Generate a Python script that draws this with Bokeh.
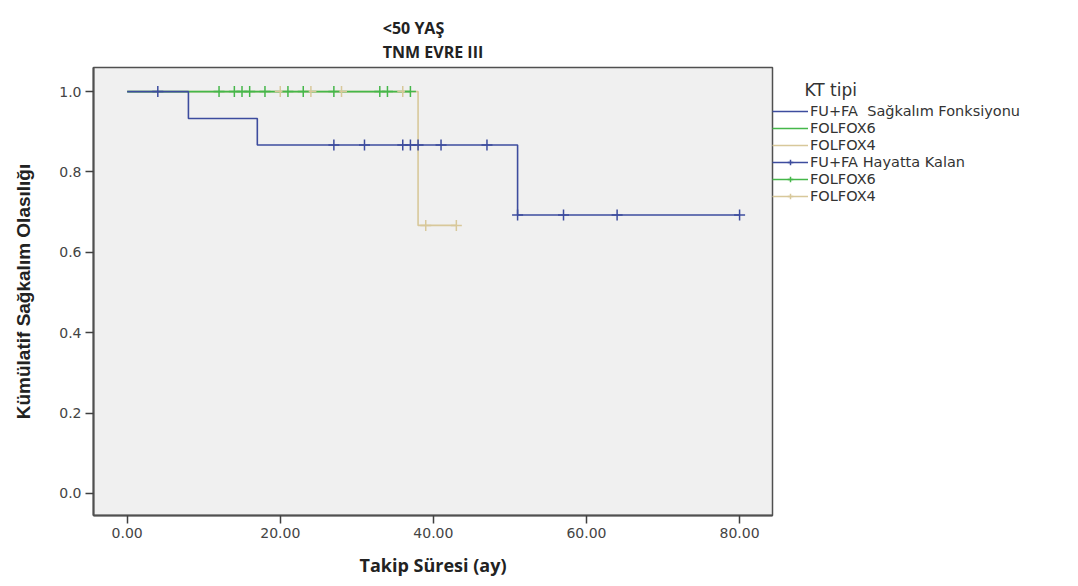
import numpy as np
from bokeh.plotting import figure
from bokeh.models import (Range1d, NumeralTickFormatter, FixedTicker, Legend,
                          LegendItem, Title)
from bokeh.embed import file_html
from bokeh.resources import INLINE

# ---- data ----
title_lines = ["<50 YAŞ", "TNM EVRE III"]
x_label = "Takip Süresi (ay)"
y_label = "Kümülatif Sağkalım Olasılığı"
legend_title = "KT tipi"
groups = ["FU+FA", "FOLFOX6", "FOLFOX4"]

fufa_times = [0, 8, 17, 51, 80]
fufa_surv = [1.0, 0.933, 0.867, 0.693, 0.693]
fufa_censor = [4, 27, 31, 36, 37, 38, 41, 47, 51, 57, 64, 80]

f6_times = [0, 37]
f6_surv = [1.0, 1.0]
f6_censor = [12, 14, 15, 16, 18, 21, 23, 27, 33, 34, 37]

f4_times = [0, 38, 43]
f4_surv = [1.0, 0.667, 0.667]
f4_censor = [20, 24, 28, 36, 39, 43]

x_ticks = [0, 20, 40, 60, 80]
y_ticks = [0.0, 0.2, 0.4, 0.6, 0.8, 1.0]

colors = ["#3d4c9e", "#45b74a", "#d8c89a"]

p = figure(frame_width=679, frame_height=448, output_backend="svg", toolbar_location=None,
           x_range=Range1d(-4.4, 84.3), y_range=Range1d(-0.055, 1.06),
           min_border_left=93, min_border_right=306, min_border_top=67,
           min_border_bottom=71)
p.title.visible = False
# inner spacer (added first, so it sits next to the frame)
p.add_layout(Title(text=".", text_font_size="2px", text_alpha=0, standoff=12), "above")
# real two-line title, stacked above the spacer
p.add_layout(Title(text="\n".join(title_lines), align="center", vertical_align="top",
                   text_font="Open Sans", text_font_size="16px", text_font_style="bold",
                   text_color="#222222", text_line_height=1.1, standoff=6), "above")

p.background_fill_color = "#f0f0f0"
p.border_fill_color = "white"
p.outline_line_color = "#505050"
p.outline_line_width = 1.5
p.grid.visible = False

for ax in (p.xaxis[0], p.yaxis[0]):
    ax.axis_line_color = "#505050"
    ax.axis_line_width = 2
    ax.major_tick_line_color = "#404040"
    ax.major_tick_line_width = 1.5
    ax.major_tick_in = 0
    ax.major_tick_out = 8
    ax.minor_tick_line_color = None
    ax.major_label_text_font = "DejaVu Sans"
    ax.major_label_text_font_size = "14px"
    ax.major_label_text_color = "#444444"
    ax.major_label_standoff = 4
    ax.axis_label_text_font_style = "bold"
    ax.axis_label_text_color = "#222222"

p.xaxis.ticker = FixedTicker(ticks=x_ticks)
p.yaxis.ticker = FixedTicker(ticks=y_ticks)
p.xaxis.formatter = NumeralTickFormatter(format="0.00")
p.yaxis.formatter = NumeralTickFormatter(format="0.0")
p.xaxis.axis_label = x_label
p.xaxis.axis_label_text_font = "Open Sans"
p.xaxis.axis_label_text_font_size = "18px"
p.xaxis.axis_label_standoff = 12
p.yaxis.axis_label = y_label
p.yaxis.axis_label_text_font = "Liberation Sans"
p.yaxis.axis_label_text_font_size = "19px"
p.yaxis.axis_label_standoff = 22


def surv_at(times, surv, t):
    idx = np.searchsorted(np.array(times), np.array(t), side="right") - 1
    return np.array(surv)[idx]


series = [(fufa_times, fufa_surv, fufa_censor),
          (f6_times, f6_surv, f6_censor),
          (f4_times, f4_surv, f4_censor)]

step_map = {}
cens_map = {}
for i in [2, 1, 0]:
    t, s, c = series[i]
    step_map[i] = p.step(t, s, mode="after", line_color=colors[i], line_width=1.6)
for i in [2, 1, 0]:
    t, s, c = series[i]
    cy = surv_at(t, s, c)
    ln = p.line([0, 1], [0.5, 0.5], line_color=colors[i], line_width=1.6, visible=False)
    sc = p.scatter(c, cy, marker="cross", size=11, line_color=colors[i], line_width=1.5)
    cens_map[i] = (ln, sc)

items = [
    LegendItem(label=groups[0] + "  Sağkalım Fonksiyonu", renderers=[step_map[0]]),
    LegendItem(label=groups[1], renderers=[step_map[1]]),
    LegendItem(label=groups[2], renderers=[step_map[2]]),
    LegendItem(label=groups[0] + " Hayatta Kalan", renderers=list(cens_map[0])),
    LegendItem(label=groups[1], renderers=list(cens_map[1])),
    LegendItem(label=groups[2], renderers=list(cens_map[2])),
]

legend = Legend(items=items, location=(0, 311),
                title="\u00a0\u00a0\u00a0\u00a0\u00a0\u00a0" + legend_title,
                title_text_font="DejaVu Sans", title_text_font_size="17px",
                title_text_color="#333333", title_text_font_style="normal",
                label_text_font="DejaVu Sans", label_text_font_size="14.5px",
                label_text_color="#333333", glyph_width=36, glyph_height=14,
                label_height=17, spacing=0, padding=0, margin=0,
                border_line_color=None, background_fill_alpha=0,
                label_standoff=2, title_standoff=2)
p.add_layout(legend, "right")

open("out.html", "w").write(file_html(p, INLINE))
